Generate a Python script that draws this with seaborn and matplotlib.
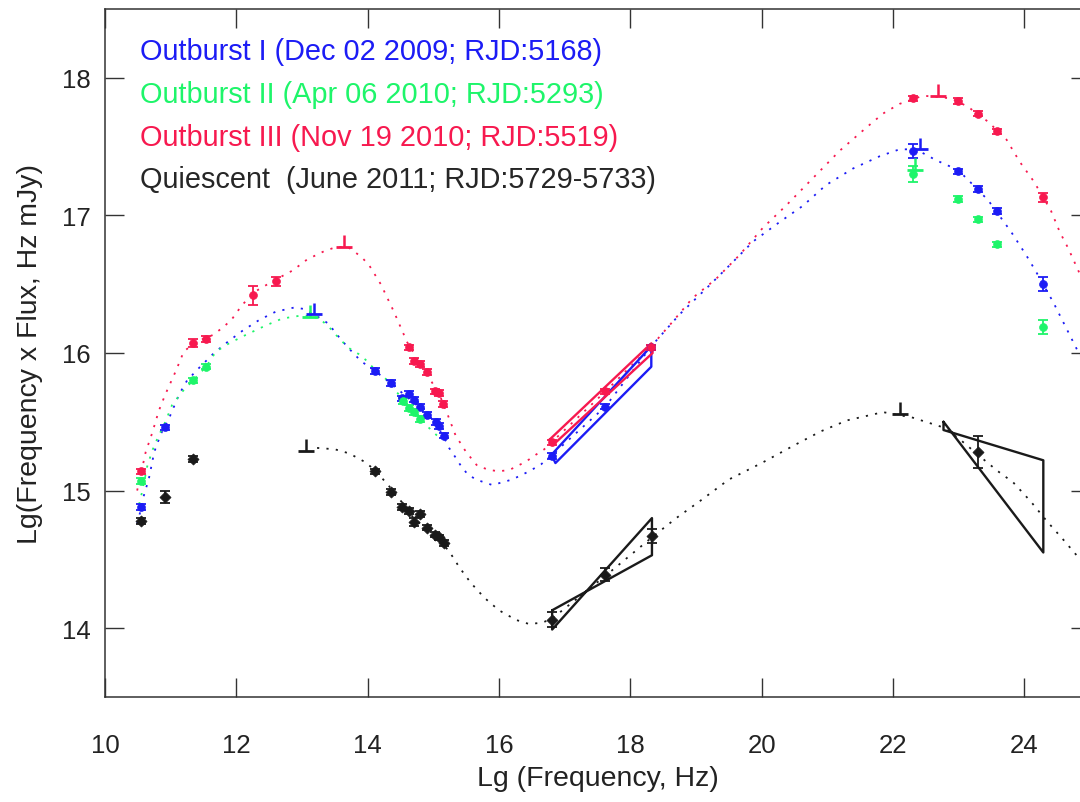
import matplotlib
matplotlib.use('Agg')
import numpy as np
import matplotlib.pyplot as plt
import seaborn as sns

# colours of the four states
c_ob1 = '#1c1cf5'
c_ob2 = '#1ef56a'
c_ob3 = '#f7194f'
c_q = '#1a1a1a'

# ---- measured points (lg nu, lg nuF_nu, error) ----
ob1_x = [10.55, 10.92, 14.11, 14.35, 14.53, 14.63, 14.71, 14.80, 14.91, 15.04, 15.09, 15.16,
         16.81, 17.62, 18.32, 22.30, 22.99, 23.29, 23.59, 24.29]
ob1_y = [14.88, 15.46, 15.87, 15.78, 15.67, 15.70, 15.66, 15.61, 15.55, 15.50, 15.47, 15.40,
         15.25, 15.61, 16.04, 17.47, 17.32, 17.19, 17.03, 16.50]
ob1_err = [0.02, 0.02, 0.02, 0.02, 0.02, 0.02, 0.02, 0.02, 0.02, 0.02, 0.02, 0.02,
           0.02, 0.02, 0.02, 0.05, 0.02, 0.02, 0.02, 0.05]

ob2_x = [10.55, 11.34, 11.54, 14.54, 14.63, 14.71, 14.80, 22.30, 22.99, 23.29, 23.59, 24.29]
ob2_y = [15.07, 15.80, 15.90, 15.65, 15.60, 15.57, 15.52, 17.30, 17.12, 16.97, 16.79, 16.19]
ob2_err = [0.02, 0.02, 0.02, 0.02, 0.02, 0.02, 0.02, 0.06, 0.02, 0.02, 0.02, 0.05]

ob3_x = [10.55, 11.34, 11.54, 12.25, 12.61, 14.63, 14.70, 14.80, 14.91, 15.03, 15.09, 15.15,
         16.81, 17.62, 18.32, 22.30, 22.99, 23.29, 23.59, 24.29]
ob3_y = [15.14, 16.07, 16.10, 16.42, 16.52, 16.04, 15.94, 15.92, 15.86, 15.72, 15.71, 15.63,
         15.35, 15.72, 16.04, 17.85, 17.83, 17.74, 17.61, 17.13]
ob3_err = [0.02, 0.03, 0.02, 0.07, 0.035, 0.02, 0.02, 0.02, 0.02, 0.02, 0.02, 0.02,
           0.02, 0.02, 0.02, 0.02, 0.02, 0.02, 0.02, 0.03]

q_x = [10.55, 10.92, 11.34, 14.11, 14.35, 14.53, 14.63, 14.80, 14.71, 14.90, 15.03, 15.09, 15.17,
       16.81, 17.62, 18.33, 23.29]
q_y = [14.78, 14.95, 15.23, 15.14, 14.99, 14.88, 14.85, 14.83, 14.77, 14.73, 14.68, 14.66, 14.62,
       14.06, 14.39, 14.67, 15.28]
q_err = [0.02, 0.044, 0.02, 0.02, 0.02, 0.02, 0.02, 0.02, 0.03, 0.02, 0.02, 0.02, 0.02,
         0.054, 0.05, 0.05, 0.115]

# upper limits
ob1_ul_x = [13.18, 22.41]
ob1_ul_y = [16.28, 17.48]
ob2_ul_x = [13.12, 22.33]
ob2_ul_y = [16.26, 17.33]
ob3_ul_x = [13.64, 22.69]
ob3_ul_y = [16.77, 17.87]
q_ul_x = [13.06, 22.10]
q_ul_y = [15.29, 15.56]

# ---- power-law bow ties ----
ob1_bt_x = [16.80, 18.32, 18.32, 16.86, 16.80]
ob1_bt_y = [15.26, 16.05, 15.90, 15.20, 15.26]
ob3_bt_x = [16.77, 18.32, 18.34, 16.82, 16.77]
ob3_bt_y = [15.37, 16.07, 16.00, 15.33, 15.37]
q_xbt_x = [16.81, 18.33, 18.33, 16.81, 16.81]
q_xbt_y = [14.13, 14.53, 14.80, 13.99, 14.13]
q_gbt_x = [22.77, 24.29, 24.29, 22.77, 22.77]
q_gbt_y = [15.50, 14.55, 15.22, 15.44, 15.50]

# ---- model curves ----
ob1_cx = [10.49, 10.54, 10.59, 10.67, 10.75, 10.85, 10.98, 11.13, 11.25, 11.43, 11.64, 11.84, 12.09,
          12.35, 12.60, 12.88, 13.03, 13.29, 13.41, 13.52, 13.70, 13.90, 14.11, 14.35, 14.60, 14.80,
          15.00, 15.15, 15.24, 15.34, 15.42, 15.52, 15.65, 15.90, 16.20, 16.46, 16.64, 16.81, 17.62,
          18.34, 18.75, 19.16, 19.56, 19.87, 20.27, 20.63, 20.98, 21.39, 21.80, 22.10, 22.35, 22.66,
          22.99, 23.14, 23.45, 23.80, 24.03, 24.18, 24.44, 24.64, 24.85]
ob1_cy = [14.76, 14.85, 14.96, 15.09, 15.28, 15.41, 15.53, 15.70, 15.80, 15.89, 15.99, 16.07, 16.16,
          16.24, 16.30, 16.33, 16.32, 16.25, 16.21, 16.14, 16.04, 15.94, 15.87, 15.78, 15.68, 15.60,
          15.50, 15.40, 15.31, 15.24, 15.18, 15.12, 15.08, 15.04, 15.08, 15.14, 15.19, 15.26, 15.61,
          16.06, 16.28, 16.47, 16.66, 16.81, 16.95, 17.07, 17.22, 17.34, 17.43, 17.48, 17.48, 17.40,
          17.33, 17.26, 17.11, 16.88, 16.71, 16.59, 16.37, 16.18, 15.98]

ob2_cx = [10.52, 10.57, 10.64, 10.72, 10.80, 10.92, 11.02, 11.18, 11.34, 11.54, 11.69, 11.89, 12.14,
          12.45, 12.70, 12.96, 13.15, 13.29, 13.41, 13.52, 13.70, 13.87, 13.97, 14.11, 14.28, 14.54,
          14.70, 14.86, 14.99, 15.10]
ob2_cy = [14.90, 15.00, 15.17, 15.29, 15.38, 15.50, 15.62, 15.72, 15.80, 15.90, 16.01, 16.07, 16.13,
          16.20, 16.25, 16.27, 16.27, 16.24, 16.19, 16.13, 16.04, 15.99, 15.95, 15.88, 15.81, 15.66,
          15.57, 15.49, 15.43, 15.38]

ob3_cx = [10.49, 10.57, 10.62, 10.72, 10.82, 10.92, 11.08, 11.20, 11.38, 11.64, 11.81, 11.94, 12.09,
          12.30, 12.55, 12.86, 13.08, 13.34, 13.52, 13.70, 13.90, 14.02, 14.20, 14.40, 14.60, 14.80,
          14.95, 15.10, 15.22, 15.34, 15.50, 15.67, 15.85, 16.00, 16.16, 16.41, 16.56, 16.69, 16.80,
          17.62, 18.34, 18.65, 18.95, 19.31, 19.66, 20.02, 20.37, 20.78, 21.19, 21.60, 21.85, 22.10,
          22.46, 22.89, 23.14, 23.45, 23.73, 23.93, 24.14, 24.29, 24.41, 24.54, 24.67, 24.85]
ob3_cy = [15.00, 15.17, 15.28, 15.42, 15.58, 15.70, 15.87, 16.01, 16.08, 16.13, 16.19, 16.25, 16.35,
          16.45, 16.52, 16.60, 16.68, 16.74, 16.77, 16.77, 16.70, 16.64, 16.50, 16.30, 16.08, 15.92,
          15.81, 15.69, 15.55, 15.40, 15.28, 15.18, 15.15, 15.14, 15.15, 15.21, 15.26, 15.30, 15.35,
          15.72, 16.06, 16.23, 16.40, 16.54, 16.71, 16.91, 17.07, 17.27, 17.47, 17.64, 17.74, 17.81,
          17.87, 17.85, 17.79, 17.68, 17.55, 17.39, 17.25, 17.13, 17.03, 16.88, 16.76, 16.57]

q_cx = [13.23, 13.50, 13.72, 13.95, 14.11, 14.33, 14.53, 14.70, 14.90, 15.05, 15.24, 15.40, 15.57,
        15.78, 16.00, 16.26, 16.46, 16.66, 16.81, 17.62, 18.33, 18.70, 19.05, 19.50, 20.00, 20.50,
        20.90, 21.30, 21.85, 22.30, 22.76, 23.00, 23.32, 23.60, 23.83, 24.10, 24.34, 24.60, 24.85]
q_cy = [15.31, 15.30, 15.27, 15.21, 15.15, 15.03, 14.91, 14.80, 14.72, 14.66, 14.56, 14.44, 14.33,
        14.22, 14.13, 14.06, 14.03, 14.04, 14.07, 14.38, 14.66, 14.80, 14.92, 15.08, 15.20, 15.33,
        15.43, 15.51, 15.57, 15.53, 15.46, 15.38, 15.25, 15.14, 15.06, 14.92, 14.78, 14.64, 14.50]

labels = ['Outburst I (Dec 02 2009; RJD:5168)',
          'Outburst II (Apr 06 2010; RJD:5293)',
          'Outburst III (Nov 19 2010; RJD:5519)',
          'Quiescent  (June 2011; RJD:5729-5733)']

sns.set_style('ticks')
plt.rcParams['font.family'] = ['Liberation Sans', 'DejaVu Sans']
plt.rcParams['axes.edgecolor'] = '#333333'
plt.rcParams['axes.linewidth'] = 1.1

fig = plt.figure(figsize=(10.8, 8.03), dpi=100)
ax = fig.add_axes([0.0972, 0.1308, 0.912, 0.8568])


def draw_curve(x, y, color):
    sns.lineplot(x=x, y=y, sort=False, estimator=None, color=color, lw=1.3,
                 linestyle=(0, (1.2, 4.0)), ax=ax)


def draw_points(x, y, err, color, marker):
    ax.errorbar(x, y, yerr=err, fmt='none', ecolor=color, elinewidth=1.3,
                capsize=3.5, capthick=1.3, zorder=3)
    sns.scatterplot(x=x, y=y, color=color, marker=marker, s=32, edgecolor=color,
                    linewidth=0.5, ax=ax, zorder=4)


def draw_limits(x, y, color):
    ax.errorbar(x, y, yerr=[np.zeros(len(y)), np.full(len(y), 0.085)], fmt='_',
                ms=11, mew=2, color=color, elinewidth=1.8, capsize=0, zorder=4)


def draw_bowtie(x, y, color):
    sns.lineplot(x=x, y=y, sort=False, estimator=None, color=color, lw=1.7, ax=ax)


draw_curve(ob1_cx, ob1_cy, c_ob1)
draw_curve(ob2_cx, ob2_cy, c_ob2)
draw_curve(ob3_cx, ob3_cy, c_ob3)
draw_curve(q_cx, q_cy, c_q)

draw_bowtie(ob1_bt_x, ob1_bt_y, c_ob1)
draw_bowtie(ob3_bt_x, ob3_bt_y, c_ob3)
draw_bowtie(q_xbt_x, q_xbt_y, c_q)
draw_bowtie(q_gbt_x, q_gbt_y, c_q)

draw_points(ob1_x, ob1_y, ob1_err, c_ob1, 'o')
draw_points(ob2_x, ob2_y, ob2_err, c_ob2, 'o')
draw_points(ob3_x, ob3_y, ob3_err, c_ob3, 'o')
draw_points(q_x, q_y, q_err, c_q, 'D')

draw_limits(ob1_ul_x, ob1_ul_y, c_ob1)
draw_limits(ob2_ul_x, ob2_ul_y, c_ob2)
draw_limits(ob3_ul_x, ob3_ul_y, c_ob3)
draw_limits(q_ul_x, q_ul_y, c_q)

# coloured text instead of a legend box
for i, (lab, col) in enumerate(zip(labels, [c_ob1, c_ob2, c_ob3, '#262626'])):
    ax.text(0.0355, 0.939 - i * 0.0622, lab, color=col, fontsize=20.8,
            transform=ax.transAxes, va='center', ha='left')

ax.set_xlim(10, 25)
ax.set_ylim(13.5, 18.5)
ax.set_xticks(range(10, 26, 2))
ax.set_yticks([14, 15, 16, 17, 18])
ax.tick_params(axis='both', direction='in', length=14, width=1.0, color='#333333',
               top=True, right=True, labelsize=18.5, labelcolor='#222222')
ax.tick_params(axis='x', pad=26)
ax.tick_params(axis='y', pad=10)
ax.set_xlabel('Lg (Frequency, Hz)', fontsize=20.5, color='#222222', labelpad=6)
ax.set_ylabel('Lg(Frequency x Flux, Hz mJy)', fontsize=20.5, color='#222222', labelpad=14)
for s in ax.spines.values():
    s.set_visible(True)

fig.savefig('out.png', dpi=100)
